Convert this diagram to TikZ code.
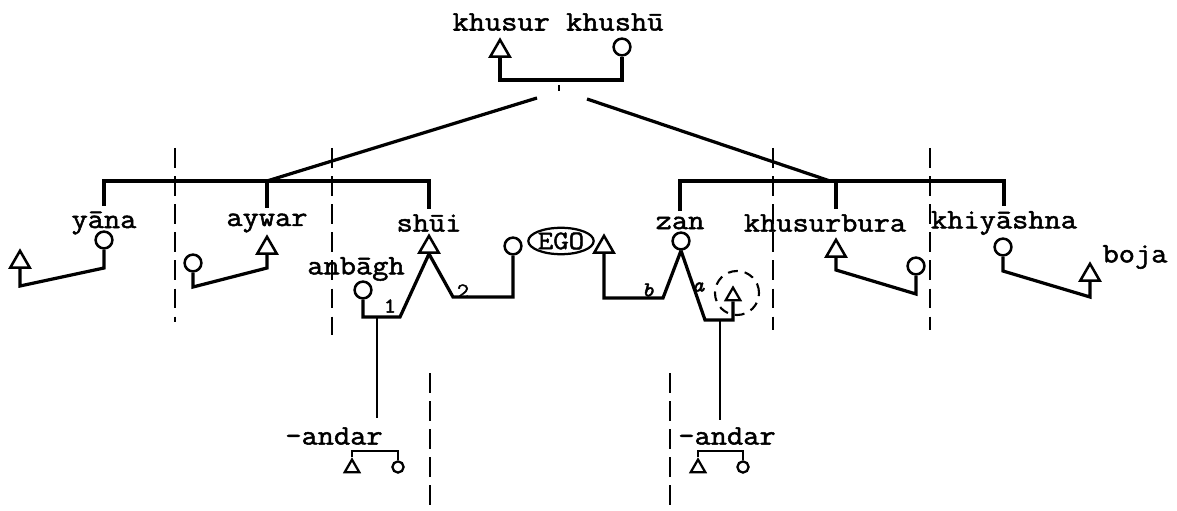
\documentclass[tikz,border=0pt]{standalone}
\usepackage{fontspec}
\newfontfamily\typefont[FakeBold=1.8, FakeStretch=1.12]{Latin Modern Mono}
\usetikzlibrary{shapes.geometric}
\begin{document}
\begin{tikzpicture}[x=0.025cm, y=-0.025cm, line width=2.3pt,
male/.style={regular polygon, regular polygon sides=3, draw, minimum size=0.56cm, inner sep=0pt, line width=1.8pt},
female/.style={circle, draw, minimum size=0.42cm, inner sep=0pt, line width=1.8pt},
smale/.style={male, minimum size=0.42cm, line width=1.6pt},
sfemale/.style={female, minimum size=0.28cm, line width=1.6pt},
kin/.style={font=\typefont\fontsize{20}{20}\selectfont, inner sep=0pt, outer sep=4pt},
tag/.style={font=\typefont\fontsize{15}{15}\selectfont, inner sep=0pt},
boundary/.style={line width=2pt, dash pattern=on 14pt off 6pt}]
\useasboundingbox (0,0) rectangle (1177,511);
% top pair
\node [kin] (top) at (558,22) {khusur khushū};
\node [male] (m0) at (500,51) {};
\node [female] (f0) at (622,47) {};
\coordinate (c0) at (561,80);
\draw (m0.south) |- (c0) -| (f0.south);
\coordinate (t1) at (559,85);
\coordinate (t2) at (559,91);
\draw [line width=1.4pt] (t1) -- (t2);
\coordinate (d1) at (537,98);
\coordinate (d2) at (267,181);
\coordinate (d3) at (587,99);
\coordinate (d4) at (830,181);
\draw (d1) -- (d2) (d3) -- (d4);
% sibling names
\begin{scope}[every node/.style={kin}]
\node (yana) at (104,223) {yāna};
\node (aywar) at (267,223) {aywar};
\node (shui) at (429,223) {shūi};
\node (zan) at (680,223) {zan};
\node (kbura) at (825,223) {khusurbura};
\node (khiy) at (1004,223) {khiyāshna};
\node (anbagh) at (356,269) {anbāgh};
\node (boja) at (1135,257) {boja};
\node (andarl) at (334,436) {-andar};
\node (andarr) at (727,436) {-andar};
\end{scope}
\draw (yana.north) |- (shui.north |- d2) -- (shui.north);
\draw (aywar.north) -- (aywar.north |- d2);
\draw (zan.north) |- (khiy.north |- d4) -- (khiy.north);
% yana
\node [female] (yf) at (104,240) {};
\node [male] (ym) at (20,262) {};
\coordinate (ya) at (104,268);
\coordinate (yb) at (20,286);
\draw (yf.south) -- (ya) -- (yb) -- (ym.south);
% aywar
\node [male] (am) at (267,248) {};
\node [female] (af) at (193,263) {};
\coordinate (aa) at (267,268);
\coordinate (ab) at (193,287);
\draw (am.south) -- (aa) -- (ab) -- (af.south);
% shui
\node [male] (sm) at (429,247) {};
\node [female] (anf) at (363,290) {};
\node [female] (ef) at (513,246) {};
\coordinate (s1) at (400,317);
\coordinate (s2) at (453,297);
\coordinate (s3) at (377,317);
\coordinate (s4) at (377,418);
\draw (sm.south) -- (s1) -| (anf.south);
\draw (sm.south) -- (s2) -| (ef.south);
\draw [line width=1.9pt] (s3) -- (s4);
\node [tag] (n1) at (390,306) {1};
\node [tag] (n2) at (463,291) {2};
% ego
\node [draw, ellipse, minimum width=1.55cm, minimum height=0.66cm, inner sep=0pt, line width=1.6pt, font=\typefont\fontsize{19}{19}\selectfont] (ego) at (561,241) {EGO};
% zan
\node [female] (zf) at (681,241) {};
\node [male] (bm) at (604,247) {};
\node [smale] (am2) at (733,296) {};
\node [draw, circle, minimum size=1.1cm, line width=1.5pt, dash pattern=on 7pt off 5pt] (ring) at (737,293) {};
\coordinate (zb) at (663,298);
\coordinate (za) at (705,320);
\coordinate (z3) at (720,320);
\coordinate (z4) at (720,420);
\draw (zf.south) -- (zb) -| (bm.south);
\draw (zf.south) -- (za) -| (am2.south);
\draw [line width=1.9pt] (z3) -- (z4);
\node [tag, font=\typefont\itshape\fontsize{15}{15}\selectfont] (nb) at (648,290) {b};
\node [tag, font=\typefont\itshape\fontsize{15}{15}\selectfont] (na) at (698,287) {a};
% khusurbura
\node [male] (kbm) at (836,251) {};
\node [female] (kbf) at (916,266) {};
\coordinate (kb1) at (836,270);
\coordinate (kb2) at (916,294);
\draw (kbm |- kbura.north) -- (kbm |- d4);
\draw (kbm.south) -- (kb1) -- (kb2) -- (kbf.south);
% khiyashna
\node [female] (kf) at (1003,247) {};
\node [male] (bjm) at (1090,275) {};
\coordinate (k1) at (1003,271);
\coordinate (k2) at (1090,297);
\draw (kf.south) -- (k1) -- (k2) -- (bjm.south);
% andar pairs
\node [smale] (lm) at (352,468) {};
\node [sfemale] (lf) at (398,467) {};
\coordinate (lb) at (375,451);
\draw [line width=1.8pt] (lm.north) |- (lb) -| (lf.north);
\node [smale] (rm) at (698,468) {};
\node [sfemale] (rf) at (743,467) {};
\coordinate (rb) at (720,451);
\draw [line width=1.8pt] (rm.north) |- (rb) -| (rf.north);
% boundaries
\foreach \x/\a/\b in {175/148/322, 332/148/335, 430/373/505, 670/373/505, 773/148/330, 930/148/330}
  \draw [boundary] (\x,\a) -- (\x,\b);
\end{tikzpicture}
\end{document}
